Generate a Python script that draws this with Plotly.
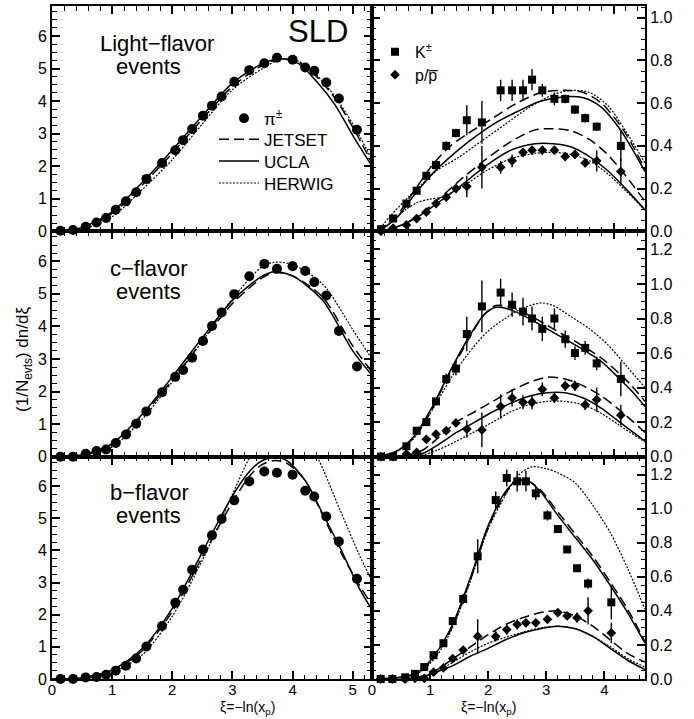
import plotly.graph_objects as go

FONT = "Liberation Sans, Arial, sans-serif"

# ---------------- data: left panels (pi+-) ----------------
xi_pi = [0.14, 0.35, 0.56, 0.74, 0.90, 1.06, 1.23, 1.40, 1.57, 1.83, 2.05, 2.18, 2.33,
         2.51, 2.66, 2.82, 3.03, 3.28, 3.53, 3.74, 4.00, 4.21, 4.36, 4.56, 4.77, 5.07]
pi_light = [0.02, 0.04, 0.14, 0.27, 0.41, 0.66, 0.92, 1.20, 1.61, 2.10, 2.49, 2.80, 3.14,
            3.55, 3.86, 4.14, 4.59, 4.95, 5.16, 5.33, 5.27, 5.03, 4.93, 4.57, 4.08, 3.12]
pi_c = [0.0, 0.0, 0.09, 0.17, 0.22, 0.42, 0.68, 1.01, 1.39, 1.98, 2.45, 2.66, 3.04,
        3.55, 4.01, 4.43, 4.99, 5.54, 5.92, 5.77, 5.85, 5.70, 5.36, 4.95, 3.86, 2.77]
pi_c_err = [0, 0, 0, 0, 0, 0, 0, 0, 0, 0, 0, 0, 0,
            0, 0, 0, 0.08, 0.12, 0.15, 0.12, 0.15, 0.15, 0.12, 0.12, 0.10, 0.08]
pi_b = [0.0, 0.0, 0.05, 0.06, 0.13, 0.26, 0.41, 0.64, 1.01, 1.65, 2.37, 2.78, 3.40,
        4.03, 4.47, 4.98, 5.56, 6.15, 6.46, 6.42, 6.36, 5.86, 5.68, 5.06, 4.28, 3.12]

# model curves, left panels
xl_light = [0.0, 0.5, 1.0, 1.5, 2.0, 2.5, 3.0, 3.5, 3.8, 4.1, 4.4, 4.7, 5.0, 5.32]
jet_light = [0.0, 0.10, 0.55, 1.42, 2.40, 3.45, 4.45, 5.10, 5.30, 5.20, 4.75, 4.10, 3.20, 2.10]
ucla_light = [0.0, 0.12, 0.60, 1.50, 2.50, 3.55, 4.55, 5.15, 5.30, 5.15, 4.60, 3.90, 2.95, 2.00]
her_light = [0.0, 0.06, 0.45, 1.28, 2.20, 3.30, 4.35, 5.00, 5.28, 5.22, 4.80, 4.15, 3.30, 2.20]

xl_c = [0.0, 0.5, 1.0, 1.5, 2.0, 2.5, 3.0, 3.5, 3.7, 4.0, 4.5, 5.0, 5.32]
jet_c = [0.0, 0.05, 0.35, 1.25, 2.35, 3.55, 4.70, 5.50, 5.65, 5.55, 4.90, 3.40, 2.60]
ucla_c = [0.0, 0.06, 0.40, 1.30, 2.45, 3.65, 4.80, 5.55, 5.68, 5.55, 4.80, 3.25, 2.50]
her_c = [0.0, 0.04, 0.30, 1.15, 2.30, 3.55, 4.85, 5.85, 5.97, 5.90, 5.30, 3.90, 3.00]

xl_b = [0.0, 0.5, 1.0, 1.5, 2.0, 2.5, 3.0, 3.3, 3.5, 3.7, 3.9, 4.2, 4.5, 4.8, 5.1, 5.32]
jet_b = [0.0, 0.03, 0.25, 0.88, 2.10, 3.80, 5.50, 6.35, 6.68, 6.80, 6.72, 6.20, 5.10, 3.95, 2.95, 2.30]
ucla_b = [0.0, 0.04, 0.28, 0.95, 2.20, 3.95, 5.70, 6.50, 6.80, 6.90, 6.80, 6.20, 5.15, 4.05, 2.85, 2.15]
xl_bh = [0.0, 0.5, 1.0, 1.5, 2.0, 2.5, 2.8, 3.0, 3.3, 3.6, 3.85, 4.1, 4.4, 4.78, 5.1, 5.32]
her_b = [0.0, 0.02, 0.20, 0.75, 1.95, 3.70, 4.90, 5.75, 6.95, 7.80, 8.00, 7.80, 6.95, 5.30, 3.90, 3.05]

# ---------------- data: right panels (K+- and p/pbar) ----------------
xi_kp = [0.15, 0.35, 0.57, 0.74, 0.90, 1.06, 1.23, 1.39, 1.57, 1.82, 2.13, 2.32, 2.50,
         2.65, 2.82, 3.02, 3.20, 3.36, 3.53, 3.72, 4.12]
K_light = [0.01, 0.06, 0.13, 0.19, 0.26, 0.31, 0.40, 0.46, 0.52, 0.51, 0.66, 0.66, 0.66,
           0.71, 0.66, 0.62, 0.62, 0.57, 0.53, 0.49, 0.40]
K_light_err = [0, 0, 0, 0, 0.01, 0.02, 0.02, 0.02, 0.07, 0.10, 0.05, 0.05, 0.05,
               0.05, 0.03, 0.03, 0.02, 0.02, 0.02, 0.02, 0.07]
p_light = [0.0, 0.015, 0.03, 0.06, 0.09, 0.13, 0.16, 0.20, 0.21, 0.30, 0.30, 0.33, 0.37,
           0.38, 0.38, 0.38, 0.35, 0.36, 0.32, 0.33, 0.28]
p_light_err = [0, 0, 0, 0, 0, 0.01, 0.01, 0.02, 0.05, 0.10, 0.03, 0.03, 0.02,
               0.02, 0.02, 0.02, 0.02, 0.02, 0.02, 0.05, 0.06]

K_c = [0.0, 0.0, 0.06, 0.15, 0.20, 0.32, 0.45, 0.51, 0.71, 0.87, 0.95, 0.88, 0.84,
       0.80, 0.74, 0.80, 0.68, 0.60, 0.63, 0.54, 0.45]
K_c_err = [0, 0, 0, 0, 0.02, 0.02, 0.03, 0.04, 0.10, 0.15, 0.08, 0.07, 0.08,
           0.07, 0.07, 0.06, 0.05, 0.04, 0.04, 0.04, 0.10]
p_c = [0.0, 0.0, 0.015, 0.025, 0.10, 0.13, 0.15, 0.195, 0.16, 0.155, 0.29, 0.34, 0.315,
       0.315, 0.39, 0.34, 0.41, 0.41, 0.30, 0.33, 0.24]
p_c_err = [0, 0, 0, 0, 0.01, 0.01, 0.02, 0.02, 0.05, 0.10, 0.07, 0.05, 0.04,
           0.04, 0.04, 0.03, 0.03, 0.03, 0.03, 0.07, 0.06]

K_b = [0.0, 0.0, 0.01, 0.03, 0.07, 0.14, 0.21, 0.34, 0.47, 0.72, 1.05, 1.18, 1.16,
       1.16, 1.09, 0.96, 0.88, 0.76, 0.65, 0.56, 0.45]
K_b_err = [0, 0, 0, 0, 0, 0.01, 0.02, 0.02, 0.03, 0.10, 0.05, 0.05, 0.06,
           0.06, 0.04, 0.03, 0.02, 0.02, 0.02, 0.03, 0.10]
p_b = [0.0, 0.0, 0.0, 0.004, 0.004, 0.04, 0.065, 0.12, 0.17, 0.25, 0.25, 0.29, 0.32,
       0.33, 0.33, 0.35, 0.39, 0.37, 0.36, 0.40, 0.27]
p_b_err = [0, 0, 0, 0, 0, 0, 0.01, 0.01, 0.02, 0.10, 0.03, 0.03, 0.03,
           0.02, 0.02, 0.02, 0.02, 0.02, 0.03, 0.08, 0.06]

# model curves, right panels
xr_kl = [0.1, 0.4, 0.7, 1.0, 1.3, 1.6, 2.0, 2.4, 2.8, 3.2, 3.5, 3.8, 4.1, 4.3, 4.52]
jetK_light = [0.0, 0.07, 0.19, 0.31, 0.40, 0.46, 0.53, 0.60, 0.65, 0.66, 0.65, 0.60, 0.50, 0.41, 0.29]
uclaK_light = [0.0, 0.06, 0.17, 0.27, 0.35, 0.42, 0.50, 0.56, 0.61, 0.63, 0.625, 0.58, 0.48, 0.39, 0.28]
xr_klh = [0.1, 0.3, 0.6, 0.9, 1.1, 1.4, 1.8, 2.2, 2.6, 3.0, 3.3, 3.6, 3.9, 4.2, 4.52]
herK_light = [0.0, 0.07, 0.16, 0.24, 0.29, 0.34, 0.42, 0.50, 0.58, 0.64, 0.66, 0.65, 0.59, 0.47, 0.32]

xr_pl = [0.15, 0.5, 0.8, 1.1, 1.5, 1.9, 2.3, 2.7, 3.0, 3.3, 3.6, 3.9, 4.2, 4.52]
jetP_light = [0.0, 0.03, 0.08, 0.15, 0.25, 0.34, 0.42, 0.475, 0.48, 0.47, 0.43, 0.36, 0.26, 0.14]
uclaP_light = [0.0, 0.03, 0.075, 0.135, 0.22, 0.31, 0.38, 0.41, 0.41, 0.395, 0.35, 0.285, 0.20, 0.10]
xr_plh = [0.15, 0.35, 0.55, 0.75, 0.95, 1.15, 1.5, 1.9, 2.3, 2.7, 3.0, 3.3, 3.6, 3.9, 4.2, 4.52]
herP_light = [0.0, 0.05, 0.10, 0.135, 0.15, 0.16, 0.21, 0.285, 0.34, 0.365, 0.37, 0.36, 0.33, 0.27, 0.19, 0.10]

xr_kc = [0.1, 0.4, 0.7, 1.0, 1.3, 1.6, 1.85, 2.05, 2.3, 2.6, 3.0, 3.4, 3.8, 4.1, 4.3, 4.52]
jetK_c = [0.0, 0.03, 0.11, 0.28, 0.49, 0.68, 0.82, 0.875, 0.865, 0.82, 0.74, 0.66, 0.57, 0.48, 0.41, 0.32]
uclaK_c = [0.0, 0.03, 0.12, 0.29, 0.50, 0.69, 0.82, 0.865, 0.85, 0.80, 0.72, 0.64, 0.55, 0.45, 0.38, 0.29]
xr_kch = [0.1, 0.4, 0.7, 1.0, 1.3, 1.6, 1.9, 2.2, 2.5, 2.8, 3.0, 3.3, 3.6, 3.9, 4.2, 4.52]
herK_c = [0.0, 0.03, 0.11, 0.27, 0.45, 0.60, 0.72, 0.80, 0.86, 0.89, 0.875, 0.81, 0.74, 0.65, 0.53, 0.40]

xr_pc = [0.3, 0.6, 0.85, 1.1, 1.4, 1.7, 2.0, 2.3, 2.6, 2.9, 3.2, 3.5, 3.8, 4.1, 4.52]
jetP_c = [0.0, 0.01, 0.04, 0.11, 0.20, 0.26, 0.32, 0.38, 0.43, 0.46, 0.45, 0.41, 0.35, 0.27, 0.14]
uclaP_c = [0.0, 0.005, 0.02, 0.07, 0.14, 0.20, 0.26, 0.31, 0.35, 0.37, 0.37, 0.34, 0.28, 0.20, 0.09]
herP_c = [0.0, 0.003, 0.01, 0.04, 0.09, 0.145, 0.20, 0.26, 0.30, 0.32, 0.32, 0.30, 0.25, 0.18, 0.085]

xr_kb = [0.1, 0.5, 0.8, 1.1, 1.4, 1.7, 2.0, 2.3, 2.5, 2.7, 2.9, 3.2, 3.5, 3.8, 4.1, 4.4, 4.70]
jetK_b = [0.0, 0.01, 0.035, 0.14, 0.32, 0.59, 0.89, 1.09, 1.16, 1.16, 1.11, 0.98, 0.85, 0.72, 0.57, 0.41, 0.22]
uclaK_b = [0.0, 0.01, 0.04, 0.15, 0.33, 0.60, 0.90, 1.10, 1.165, 1.16, 1.10, 0.96, 0.83, 0.70, 0.55, 0.39, 0.21]
xr_kbh = [0.1, 0.5, 0.8, 1.1, 1.4, 1.7, 2.0, 2.3, 2.5, 2.75, 3.0, 3.2, 3.5, 3.8, 4.1, 4.4, 4.70]
herK_b = [0.0, 0.01, 0.035, 0.13, 0.31, 0.58, 0.88, 1.08, 1.19, 1.245, 1.235, 1.21, 1.15, 1.02, 0.86, 0.65, 0.41]

xr_pb = [0.5, 0.8, 1.1, 1.4, 1.7, 2.0, 2.3, 2.6, 2.9, 3.2, 3.5, 3.8, 4.1, 4.4, 4.70]
jetP_b = [0.0, 0.01, 0.05, 0.12, 0.19, 0.26, 0.32, 0.36, 0.39, 0.40, 0.37, 0.31, 0.23, 0.15, 0.10]
uclaP_b = [0.0, 0.005, 0.04, 0.08, 0.135, 0.18, 0.23, 0.27, 0.295, 0.31, 0.295, 0.25, 0.18, 0.11, 0.055]
herP_b = [0.0, 0.008, 0.04, 0.10, 0.16, 0.21, 0.245, 0.275, 0.30, 0.31, 0.295, 0.25, 0.19, 0.12, 0.07]

# ---------------- figure ----------------
fig = go.Figure()

DASH = "10px,5px"
DOT = "2px,1.5px"


def curve(x, y, ax, style, legend_id=None):
    dash = {"JETSET": DASH, "UCLA": "solid", "HERWIG": DOT}[style]
    width = 1.2 if style == "HERWIG" else 1.5
    fig.add_trace(go.Scatter(
        x=x, y=y, mode="lines", xaxis="x" + ax, yaxis="y" + ax,
        line=dict(color="black", width=width, dash=dash, shape="spline", smoothing=0.8),
        name=style, showlegend=legend_id is not None, legend=legend_id or "legend",
        hoverinfo="skip"))


def points(x, y, err, ax, symbol, size, name="", legend_id=None):
    fig.add_trace(go.Scatter(
        x=x, y=y, mode="markers", xaxis="x" + ax, yaxis="y" + ax,
        marker=dict(symbol=symbol, size=size, color="black", line=dict(width=0)),
        error_y=dict(type="data", array=err, width=0, thickness=1.4, color="black",
                     visible=err is not None),
        name=name, showlegend=legend_id is not None, legend=legend_id or "legend",
        cliponaxis=False))


# top-left
curve(xl_light, jet_light, "", "JETSET", legend_id="legend3")
curve(xl_light, ucla_light, "", "UCLA", legend_id="legend4")
curve(xl_light, her_light, "", "HERWIG", legend_id="legend5")
points(xi_pi, pi_light, None, "", "circle", 10, name="π<sup>±</sup>", legend_id="legend")
# mid-left
curve(xl_c, jet_c, "3", "JETSET")
curve(xl_c, ucla_c, "3", "UCLA")
curve(xl_c, her_c, "3", "HERWIG")
points(xi_pi, pi_c, pi_c_err, "3", "circle", 10)
# bottom-left
curve(xl_b, jet_b, "5", "JETSET")
curve(xl_b, ucla_b, "5", "UCLA")
curve(xl_bh, her_b, "5", "HERWIG")
points(xi_pi, pi_b, None, "5", "circle", 10)

# top-right
curve(xr_kl, jetK_light, "2", "JETSET")
curve(xr_kl, uclaK_light, "2", "UCLA")
curve(xr_klh, herK_light, "2", "HERWIG")
curve(xr_pl, jetP_light, "2", "JETSET")
curve(xr_pl, uclaP_light, "2", "UCLA")
curve(xr_plh, herP_light, "2", "HERWIG")
points(xi_kp, K_light, K_light_err, "2", "square", 8, name="K<sup>±</sup>", legend_id="legend2")
points(xi_kp, p_light, p_light_err, "2", "diamond", 7.5, name="p/p\u0305", legend_id="legend6")
# mid-right
curve(xr_kc, jetK_c, "4", "JETSET")
curve(xr_kc, uclaK_c, "4", "UCLA")
curve(xr_kch, herK_c, "4", "HERWIG")
curve(xr_pc, jetP_c, "4", "JETSET")
curve(xr_pc, uclaP_c, "4", "UCLA")
curve(xr_pc, herP_c, "4", "HERWIG")
points(xi_kp, K_c, K_c_err, "4", "square", 8)
points(xi_kp, p_c, p_c_err, "4", "diamond", 7.5)
# bottom-right
curve(xr_kb, jetK_b, "6", "JETSET")
curve(xr_kb, uclaK_b, "6", "UCLA")
curve(xr_kbh, herK_b, "6", "HERWIG")
curve(xr_pb, jetP_b, "6", "JETSET")
curve(xr_pb, uclaP_b, "6", "UCLA")
curve(xr_pb, herP_b, "6", "HERWIG")
points(xi_kp, K_b, K_b_err, "6", "square", 8)
points(xi_kp, p_b, p_b_err, "6", "diamond", 7.5)

# ---------------- axes ----------------
XL = [0.0, 0.5396]
XR = [0.5396, 1.0]
YT = [0.6652, 1.0]
YM = [0.3304, 0.6652]
YB = [0.0, 0.3304]

tickfont = dict(family=FONT, size=16, color="black")
xtickfont = dict(family=FONT, size=15, color="black")


def xax(domain, rng, anchor, labels, minor=0.2):
    return dict(domain=domain, range=rng, anchor=anchor, showline=True, linewidth=2,
                linecolor="black", mirror="allticks", ticks="inside", ticklen=8,
                tickwidth=1.5, tickcolor="black", dtick=1, tick0=0,
                showticklabels=labels, tickfont=xtickfont, ticklabelstandoff=-4,
                showgrid=False, zeroline=False,
                minor=dict(ticks="inside", dtick=minor, tick0=0, ticklen=4.5,
                           tickwidth=1.2, tickcolor="black"))


def yax(domain, rng, anchor, side, dtick, minor, fmt):
    return dict(domain=domain, range=rng, anchor=anchor, side=side, showline=True,
                linewidth=2, linecolor="black", mirror="allticks", ticks="inside",
                ticklen=8, tickwidth=1.5, tickcolor="black", dtick=dtick, tick0=0,
                tickformat=fmt, tickfont=tickfont, showgrid=False, zeroline=False,
                minor=dict(ticks="inside", dtick=minor, tick0=0, ticklen=4.5,
                           tickwidth=1.2, tickcolor="black"))


def px2paper(px, py):
    return (px - 52) / 593.0, (679 - py) / 675.0


def leg(text_px, cy, size, itemwidth=30):
    # single-entry legend whose text starts near text_px and is centred on cy
    x, y = px2paper(text_px - itemwidth - 11, cy)
    return dict(x=x, y=y, xanchor="left", yanchor="middle", bgcolor="rgba(0,0,0,0)",
                font=dict(family=FONT, size=size, color="black"), itemclick=False,
                itemdoubleclick=False, itemwidth=itemwidth)


layout = dict(
    width=694, height=719,
    margin=dict(l=52, r=49, t=4, b=40, pad=0),
    paper_bgcolor="white", plot_bgcolor="white",
    font=dict(family=FONT, color="black"),
    xaxis=xax(XL, [0, 5.32], "y", False),
    yaxis=yax(YT, [0, 6.92], "x", "left", 1, 0.25, "d"),
    xaxis2=xax(XR, [0, 4.52], "y2", False),
    yaxis2=yax(YT, [0, 1.055], "x2", "right", 0.2, 0.05, ".1f"),
    xaxis3=xax(XL, [0, 5.32], "y3", False),
    yaxis3=yax(YM, [0, 6.92], "x3", "left", 1, 0.25, "d"),
    xaxis4=xax(XR, [0, 4.52], "y4", False),
    yaxis4=yax(YM, [0, 1.305], "x4", "right", 0.2, 0.05, ".1f"),
    xaxis5=xax(XL, [0, 5.32], "y5", True),
    yaxis5=yax(YB, [0, 6.92], "x5", "left", 1, 0.25, "d"),
    xaxis6=xax(XR, [0, 4.70], "y6", True),
    yaxis6=yax(YB, [0, 1.305], "x6", "right", 0.2, 0.05, ".1f"),
    legend=leg(265, 117, 17),
    legend3=leg(265, 138, 17, 40),
    legend4=leg(265, 160, 17, 40),
    legend5=leg(265, 182, 17, 40),
    legend2=leg(416, 50, 16),
    legend6=leg(416, 73, 16),
    showlegend=True,
)
fig.update_layout(**layout)


def note(text, px, py, size, angle=0, yanchor="middle"):
    x, y = px2paper(px, py)
    fig.add_annotation(text=text, x=x, y=y, xref="paper", yref="paper",
                       xanchor="center", yanchor=yanchor, showarrow=False,
                       textangle=angle, font=dict(family=FONT, size=size, color="black"))


note("SLD", 318, 30, 31)
note("Light\u2212flavor", 157, 42, 22)
note("events", 148, 65, 22)
note("c\u2212flavor", 149, 267, 22)
note("events", 148, 290, 22)
note("b\u2212flavor", 149, 492, 22)
note("events", 148, 515, 22)
note("\u03be=\u2212ln(x<sub>p</sub>)", 247, 719, 14, yanchor="bottom")
note("\u03be=\u2212ln(x<sub>p</sub>)", 488, 719, 14, yanchor="bottom")
note("(1/N<sub>evts</sub>) dn/d\u03be", 24, 359, 17, angle=-90)

fig.write_html("out.html")
